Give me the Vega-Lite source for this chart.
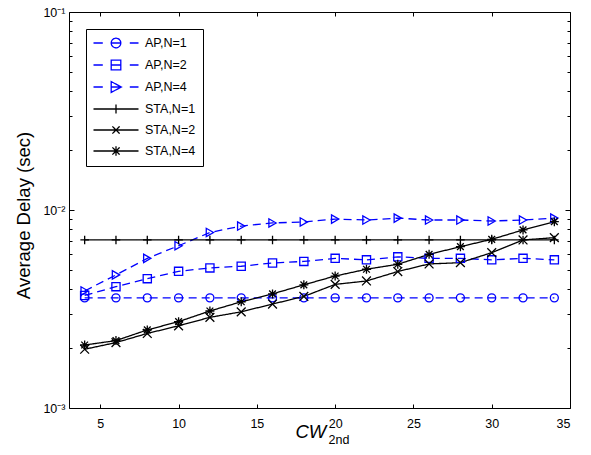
{
  "$schema": "https://vega.github.io/schema/vega-lite/v6.json",
  "width": 501,
  "height": 396,
  "autosize": {"type": "none"},
  "padding": {"left": 69, "top": 12, "right": 21, "bottom": 47},
  "background": "white",
  "config": {
    "view": {"stroke": "black", "strokeWidth": 1},
    "font": "Liberation Sans",
    "axis": {
      "domain": false,
      "grid": false,
      "tickColor": "black",
      "tickWidth": 1,
      "labelColor": "black",
      "labelFontSize": 12.5,
      "labelFont": "Liberation Sans",
      "titleColor": "black",
      "titleFont": "Liberation Sans",
      "titleFontWeight": "normal"
    }
  },
  "data": {
    "values": [
      {"x": 4, "delay": 0.0036, "series": "AP,N=1"},
      {"x": 6, "delay": 0.0036, "series": "AP,N=1"},
      {"x": 8, "delay": 0.0036, "series": "AP,N=1"},
      {"x": 10, "delay": 0.0036, "series": "AP,N=1"},
      {"x": 12, "delay": 0.0036, "series": "AP,N=1"},
      {"x": 14, "delay": 0.0036, "series": "AP,N=1"},
      {"x": 16, "delay": 0.0036, "series": "AP,N=1"},
      {"x": 18, "delay": 0.0036, "series": "AP,N=1"},
      {"x": 20, "delay": 0.0036, "series": "AP,N=1"},
      {"x": 22, "delay": 0.0036, "series": "AP,N=1"},
      {"x": 24, "delay": 0.0036, "series": "AP,N=1"},
      {"x": 26, "delay": 0.0036, "series": "AP,N=1"},
      {"x": 28, "delay": 0.0036, "series": "AP,N=1"},
      {"x": 30, "delay": 0.0036, "series": "AP,N=1"},
      {"x": 32, "delay": 0.0036, "series": "AP,N=1"},
      {"x": 34, "delay": 0.0036, "series": "AP,N=1"},
      {"x": 4, "delay": 0.0037, "series": "AP,N=2"},
      {"x": 6, "delay": 0.0041, "series": "AP,N=2"},
      {"x": 8, "delay": 0.0045, "series": "AP,N=2"},
      {"x": 10, "delay": 0.0049, "series": "AP,N=2"},
      {"x": 12, "delay": 0.0051, "series": "AP,N=2"},
      {"x": 14, "delay": 0.0052, "series": "AP,N=2"},
      {"x": 16, "delay": 0.0054, "series": "AP,N=2"},
      {"x": 18, "delay": 0.0055, "series": "AP,N=2"},
      {"x": 20, "delay": 0.0057, "series": "AP,N=2"},
      {"x": 22, "delay": 0.0056, "series": "AP,N=2"},
      {"x": 24, "delay": 0.0058, "series": "AP,N=2"},
      {"x": 26, "delay": 0.0057, "series": "AP,N=2"},
      {"x": 28, "delay": 0.0057, "series": "AP,N=2"},
      {"x": 30, "delay": 0.0056, "series": "AP,N=2"},
      {"x": 32, "delay": 0.0057, "series": "AP,N=2"},
      {"x": 34, "delay": 0.0056, "series": "AP,N=2"},
      {"x": 4, "delay": 0.0039, "series": "AP,N=4"},
      {"x": 6, "delay": 0.0047, "series": "AP,N=4"},
      {"x": 8, "delay": 0.0057, "series": "AP,N=4"},
      {"x": 10, "delay": 0.0066, "series": "AP,N=4"},
      {"x": 12, "delay": 0.0077, "series": "AP,N=4"},
      {"x": 14, "delay": 0.0083, "series": "AP,N=4"},
      {"x": 16, "delay": 0.0086, "series": "AP,N=4"},
      {"x": 18, "delay": 0.0087, "series": "AP,N=4"},
      {"x": 20, "delay": 0.0090, "series": "AP,N=4"},
      {"x": 22, "delay": 0.0089, "series": "AP,N=4"},
      {"x": 24, "delay": 0.0091, "series": "AP,N=4"},
      {"x": 26, "delay": 0.0089, "series": "AP,N=4"},
      {"x": 28, "delay": 0.0089, "series": "AP,N=4"},
      {"x": 30, "delay": 0.0088, "series": "AP,N=4"},
      {"x": 32, "delay": 0.0089, "series": "AP,N=4"},
      {"x": 34, "delay": 0.0091, "series": "AP,N=4"},
      {"x": 4, "delay": 0.00706, "series": "STA,N=1"},
      {"x": 6, "delay": 0.00706, "series": "STA,N=1"},
      {"x": 8, "delay": 0.00706, "series": "STA,N=1"},
      {"x": 10, "delay": 0.00706, "series": "STA,N=1"},
      {"x": 12, "delay": 0.00706, "series": "STA,N=1"},
      {"x": 14, "delay": 0.00706, "series": "STA,N=1"},
      {"x": 16, "delay": 0.00706, "series": "STA,N=1"},
      {"x": 18, "delay": 0.00706, "series": "STA,N=1"},
      {"x": 20, "delay": 0.00706, "series": "STA,N=1"},
      {"x": 22, "delay": 0.00706, "series": "STA,N=1"},
      {"x": 24, "delay": 0.00706, "series": "STA,N=1"},
      {"x": 26, "delay": 0.00706, "series": "STA,N=1"},
      {"x": 28, "delay": 0.00706, "series": "STA,N=1"},
      {"x": 30, "delay": 0.00706, "series": "STA,N=1"},
      {"x": 32, "delay": 0.00706, "series": "STA,N=1"},
      {"x": 34, "delay": 0.00706, "series": "STA,N=1"},
      {"x": 4, "delay": 0.00198, "series": "STA,N=2"},
      {"x": 6, "delay": 0.00214, "series": "STA,N=2"},
      {"x": 8, "delay": 0.00238, "series": "STA,N=2"},
      {"x": 10, "delay": 0.0026, "series": "STA,N=2"},
      {"x": 12, "delay": 0.00287, "series": "STA,N=2"},
      {"x": 14, "delay": 0.00306, "series": "STA,N=2"},
      {"x": 16, "delay": 0.00335, "series": "STA,N=2"},
      {"x": 18, "delay": 0.00366, "series": "STA,N=2"},
      {"x": 20, "delay": 0.00421, "series": "STA,N=2"},
      {"x": 22, "delay": 0.00438, "series": "STA,N=2"},
      {"x": 24, "delay": 0.00489, "series": "STA,N=2"},
      {"x": 26, "delay": 0.00534, "series": "STA,N=2"},
      {"x": 28, "delay": 0.00542, "series": "STA,N=2"},
      {"x": 30, "delay": 0.00609, "series": "STA,N=2"},
      {"x": 32, "delay": 0.00706, "series": "STA,N=2"},
      {"x": 34, "delay": 0.00725, "series": "STA,N=2"},
      {"x": 4, "delay": 0.00208, "series": "STA,N=4"},
      {"x": 6, "delay": 0.00219, "series": "STA,N=4"},
      {"x": 8, "delay": 0.00248, "series": "STA,N=4"},
      {"x": 10, "delay": 0.00273, "series": "STA,N=4"},
      {"x": 12, "delay": 0.00309, "series": "STA,N=4"},
      {"x": 14, "delay": 0.00344, "series": "STA,N=4"},
      {"x": 16, "delay": 0.00377, "series": "STA,N=4"},
      {"x": 18, "delay": 0.00419, "series": "STA,N=4"},
      {"x": 20, "delay": 0.00464, "series": "STA,N=4"},
      {"x": 22, "delay": 0.00502, "series": "STA,N=4"},
      {"x": 24, "delay": 0.00532, "series": "STA,N=4"},
      {"x": 26, "delay": 0.00597, "series": "STA,N=4"},
      {"x": 28, "delay": 0.00653, "series": "STA,N=4"},
      {"x": 30, "delay": 0.00711, "series": "STA,N=4"},
      {"x": 32, "delay": 0.00793, "series": "STA,N=4"},
      {"x": 34, "delay": 0.00873, "series": "STA,N=4"}
    ]
  },
  "layer": [
    {
      "mark": {"type": "line", "strokeWidth": 1.3},
      "encoding": {
        "x": {
          "field": "x", "type": "quantitative",
          "scale": {"domain": [3, 35], "nice": false, "zero": false},
          "axis": {
            "orient": "bottom",
            "values": [5, 10, 15, 20, 25, 30, 35],
            "tickSize": -4,
            "labelPadding": 13,
            "title": "CW",
            "titleFontSize": 18.5,
            "titleFontStyle": "italic",
            "titleAlign": "left",
            "titleBaseline": "alphabetic",
            "titleX": 226,
            "titleY": 29
          }
        },
        "y": {
          "field": "delay", "type": "quantitative",
          "scale": {"type": "log", "domain": [0.001, 0.1], "nice": false},
          "axis": {
            "orient": "left",
            "values": [0.001, 0.002, 0.003, 0.004, 0.005, 0.006, 0.007, 0.008, 0.009, 0.01, 0.02, 0.03, 0.04, 0.05, 0.06, 0.07, 0.08, 0.09, 0.1],
            "labelExpr": "datum.value == 0.1 ? '10⁻¹' : datum.value == 0.01 ? '10⁻²' : datum.value == 0.001 ? '10⁻³' : ''",
            "tickSize": {"condition": {"test": "datum.value == 0.1 || datum.value == 0.01 || datum.value == 0.001", "value": -5}, "value": -3},
            "labelPadding": 9,
            "title": "Average Delay (sec)",
            "titleFontSize": 18.5,
            "titleAlign": "center",
            "titleBaseline": "middle",
            "titleAngle": -90,
            "titleX": -46,
            "titleY": 203
          }
        },
        "color": {
          "field": "series", "type": "nominal",
          "scale": {
            "domain": ["AP,N=1", "AP,N=2", "AP,N=4", "STA,N=1", "STA,N=2", "STA,N=4"],
            "range": ["#0000ff", "#0000ff", "#0000ff", "#000000", "#000000", "#000000"]
          },
          "legend": {
            "orient": "none",
            "legendX": 17,
            "legendY": 17,
            "title": null,
            "padding": 7,
            "strokeColor": "black",
            "fillColor": "white",
            "labelFontSize": 12.5,
            "labelFont": "Liberation Sans",
            "labelColor": "black",
            "symbolSize": 144,
            "symbolStrokeWidth": 1.3,
            "rowPadding": 6,
            "labelOffset": 22,
            "symbolOffset": 16,
            "encode": {
              "symbols": {
                "update": {
                  "shape": {"signal": "datum.value === 'AP,N=1' ? 'M-3.75,0H-2.2M2.3,0H3.75M0.8,0A0.8,0.8 0 1,1 -0.8,0A0.8,0.8 0 1,1 0.8,0M-0.8,0H0.8' : datum.value === 'AP,N=2' ? 'M-3.75,0H-2.2M2.3,0H3.75M-0.8,-0.8H0.8V0.8H-0.8ZM-0.8,0H0.8' : datum.value === 'AP,N=4' ? 'M-3.75,0H-2.2M2.3,0H3.75M-0.8,-0.9L0.9,0L-0.8,0.9ZM-0.8,0H0.9' : datum.value === 'STA,N=1' ? 'M-3.75,0H3.75M0,-0.75V0.75' : datum.value === 'STA,N=2' ? 'M-3.75,0H3.75M-0.6,-0.6L0.6,0.6M-0.6,0.6L0.6,-0.6' : 'M-3.75,0H3.75M0,-0.8V0.8M-0.6,-0.6L0.6,0.6M-0.6,0.6L0.6,-0.6'"},
                  "fill": {"value": "transparent"},
                  "stroke": {"scale": "color", "field": "value"},
                  "strokeDash": {"value": [1, 0]},
                  "strokeWidth": {"value": 1.3},
                  "size": {"value": 144},
                  "opacity": {"value": 1}
                }
              }
            }
          }
        },
        "strokeDash": {
          "field": "series", "type": "nominal",
          "scale": {
            "domain": ["STA,N=4", "STA,N=2", "STA,N=1", "AP,N=4", "AP,N=2", "AP,N=1"],
            "range": [[1, 0], [1, 0], [1, 0], [8, 5], [8, 5], [8, 5]]
          },
          "legend": null
        }
      }
    },
    {
      "mark": {"type": "point", "filled": false, "strokeWidth": 1.3, "opacity": 1},
      "encoding": {
        "x": {
          "field": "x", "type": "quantitative",
          "axis": {
            "orient": "top",
            "values": [5, 10, 15, 20, 25, 30, 35],
            "tickSize": -4,
            "labels": false,
            "title": "2nd",
            "titleFontSize": 12.5,
            "titleAlign": "left",
            "titleBaseline": "alphabetic",
            "titleX": 259,
            "titleY": 431
          }
        },
        "y": {
          "field": "delay", "type": "quantitative",
          "axis": {
            "orient": "right",
            "values": [0.001, 0.002, 0.003, 0.004, 0.005, 0.006, 0.007, 0.008, 0.009, 0.01, 0.02, 0.03, 0.04, 0.05, 0.06, 0.07, 0.08, 0.09, 0.1],
            "labels": false,
            "tickSize": {"condition": {"test": "datum.value == 0.1 || datum.value == 0.01 || datum.value == 0.001", "value": -5}, "value": -3},
            "title": null
          }
        },
        "color": {"field": "series", "type": "nominal"},
        "shape": {
          "field": "series", "type": "nominal",
          "scale": {
            "domain": ["STA,N=4", "STA,N=2", "STA,N=1", "AP,N=4", "AP,N=2", "AP,N=1"],
            "range": ["M-1,0H1M0,-1V1M-0.75,-0.75L0.75,0.75M-0.75,0.75L0.75,-0.75", "M-1,-1L1,1M-1,1L1,-1", "M-1,0H1M0,-1V1", "triangle-right", "square", "circle"]
          },
          "legend": null
        },
        "size": {
          "field": "series", "type": "nominal",
          "scale": {
            "domain": ["STA,N=4", "STA,N=2", "STA,N=1", "AP,N=4", "AP,N=2", "AP,N=1"],
            "range": [81, 64, 64, 110, 87, 87]
          },
          "legend": null
        }
      }
    }
  ],
  "resolve": {"axis": {"x": "independent", "y": "independent"}}
}
